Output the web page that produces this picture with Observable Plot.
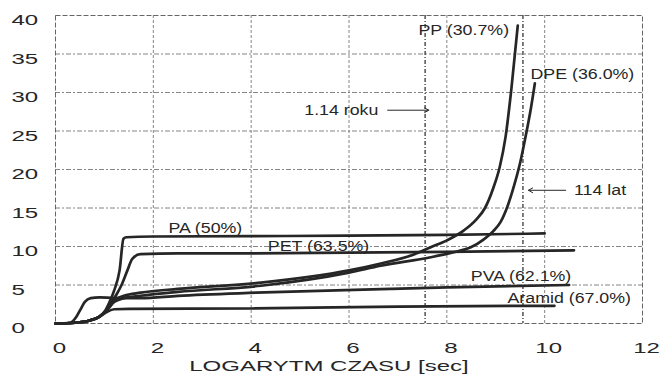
<!DOCTYPE html>
<html><head><meta charset="utf-8">
<script src="https://cdn.jsdelivr.net/npm/d3@7"></script>
<script src="https://cdn.jsdelivr.net/npm/@observablehq/plot@0.6"></script>
<style>
html,body{margin:0;padding:0;background:#fff;}
#chart svg{display:block;}
</style></head><body><div id="chart"></div>
<script>
const xTicks = [0, 2, 4, 6, 8, 10, 12];
const yTicks = [0, 5, 10, 15, 20, 25, 30, 35, 40];
const xGrid = [2, 4, 6, 8, 10];
const yGrid = [5, 10, 15, 20, 25, 30, 35];
const markerX = [7.556, 9.556];
const xTitle = "LOGARYTM CZASU [sec]";

const paPts = [[0,0],[0.4,0.1],[0.7,0.4],[0.9,0.9],[1.02,1.7],[1.12,3.0],[1.2,4.3],[1.31,6.9],[1.39,11.0],[1.45,11.2],[2,11.3],[4,11.35],[6,11.4],[8,11.5],[10,11.7]];
const petPts = [[0,0],[0.4,0.1],[0.7,0.4],[0.9,0.9],[1.05,1.8],[1.15,2.8],[1.25,3.8],[1.35,5.0],[1.47,6.9],[1.57,8.4],[1.74,9.0],[2.5,9.1],[4,9.1],[6,9.2],[8,9.3],[10.6,9.5]];
const pvaPts = [[0,0],[0.3,0.1],[0.42,0.8],[0.5,1.7],[0.6,2.8],[0.72,3.3],[0.9,3.4],[1.2,3.3],[1.74,3.3],[2.5,3.6],[4.1,4.0],[6.85,4.5],[8,4.7],[10.5,5.0]];
const aramidPts = [[0,0],[0.4,0.1],[0.7,0.4],[0.9,0.9],[1.05,1.5],[1.2,1.85],[1.5,1.9],[4,1.95],[7,2.2],[10.2,2.3]];
const ppPts = [[0,0],[0.4,0.1],[0.7,0.4],[0.9,0.9],[1.05,1.8],[1.2,3.0],[1.4,3.6],[1.74,4.0],[2.5,4.5],[4.2,5.3],[6.0,6.9],[6.65,7.8],[7.3,8.9],[7.67,9.9],[8.0,10.8],[8.35,12.1],[8.6,13.5],[8.78,15.0],[8.95,17.6],[9.08,20.3],[9.2,24.2],[9.32,30.5],[9.45,38.7]];
const dpePts = [[0,0],[0.4,0.1],[0.7,0.4],[0.9,0.9],[1.05,1.7],[1.2,2.8],[1.4,3.3],[1.74,3.6],[2.5,4.1],[4.2,4.9],[6.0,6.6],[6.65,7.5],[7.67,8.6],[8.1,9.2],[8.49,9.9],[8.75,10.9],[8.95,12.0],[9.1,13.2],[9.25,15.4],[9.37,17.8],[9.5,20.9],[9.62,24.6],[9.72,28.0],[9.8,31.2]];

const seriesNames = ["PA", "PET", "PVA", "Aramid", "PP", "DPE"];
const seriesPts = [paPts, petPts, pvaPts, aramidPts, ppPts, dpePts];

const labelText = ["PA (50%)", "PET (63.5%)", "PVA (62.1%)", "Aramid (67.0%)", "PP (30.7%)", "DPE (36.0%)", "114 lat"];
const labelX = [2.31, 4.34, 8.49, 9.24, 7.42, 9.71, 10.6];
const labelY = [12.4, 10.0, 6.1, 3.25, 38.0, 32.4, 17.3];

const noteText = ["1.14 roku"];
const noteX = [6.6];
const noteY = [27.7];

const arrowX1 = [6.79, 10.43];
const arrowX2 = [7.63, 9.67];
const arrowY = [27.7, 17.3];

const lineRows = seriesNames.flatMap((s, i) => seriesPts[i].map(([x, y]) => ({s, x, y})));
const labels = labelText.map((t, i) => ({t, x: labelX[i], y: labelY[i]}));
const notes = noteText.map((t, i) => ({t, x: noteX[i], y: noteY[i]}));
const arrows = arrowX1.map((x1, i) => ({x1, x2: arrowX2[i], y: arrowY[i]}));

const ink = "#262626";
const svg = Plot.plot({
  width: 665, height: 379,
  marginLeft: 55, marginRight: 23, marginTop: 15, marginBottom: 56,
  style: {fontFamily: "'Liberation Sans', Arial, sans-serif", fontSize: "15px", color: ink, background: "#fff"},
  x: {domain: [0, 12]},
  y: {domain: [0, 40]},
  marks: [
    Plot.ruleY(yGrid, {stroke: "#666", strokeWidth: 0.8, strokeDasharray: "5,2,2,2"}),
    Plot.ruleX(xGrid, {stroke: "#666", strokeWidth: 0.8, strokeDasharray: "3,2"}),
    Plot.frame({stroke: "#555", strokeWidth: 0.9, strokeDasharray: "5,2"}),
    Plot.ruleX(markerX, {stroke: "#444", strokeWidth: 1.4, strokeDasharray: "4,2,1,2"}),
    Plot.line(lineRows, {x: "x", y: "y", z: "s", stroke: ink, strokeWidth: 2.7, curve: "monotone-x"}),
    Plot.arrow(arrows, {x1: "x1", x2: "x2", y1: "y", y2: "y", stroke: ink, strokeWidth: 1, headLength: 7}),
    Plot.text(labels, {x: "x", y: "y", text: "t", textAnchor: "start", fontSize: 14, fill: ink}),
    Plot.text(notes, {x: "x", y: "y", text: "t", textAnchor: "end", fontSize: 14, fill: ink}),
    Plot.axisY(yTicks, {tickSize: 0, tickPadding: 44, textAnchor: "start", dy: 5, fill: ink, label: null, fontSize: 15}),
    Plot.axisX(xTicks, {tickSize: 0, tickPadding: 19, dx: 4, fill: ink, label: null, fontSize: 15}),
    Plot.text([xTitle], {frameAnchor: "bottom", dy: 47, dx: -20, fontSize: 15, fill: ink})
  ]
});
document.getElementById("chart").append(svg);
svg.querySelectorAll("text").forEach(t => {
  const s = t.textContent;
  const f = (/^\d+$/.test(s) || s === xTitle) ? 1.6 : 1.27;
  const L = t.getComputedTextLength();
  t.setAttribute("textLength", (L * f).toFixed(1));
  t.setAttribute("lengthAdjust", "spacingAndGlyphs");
});
</script></body></html>
